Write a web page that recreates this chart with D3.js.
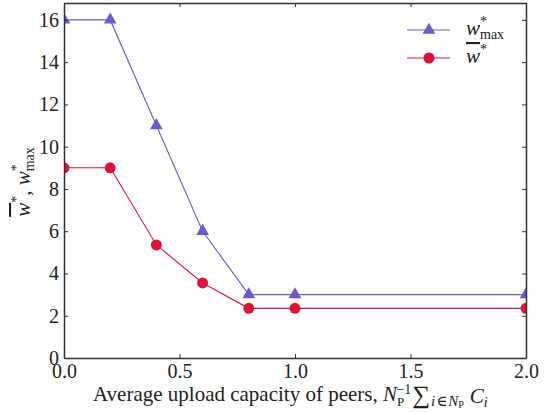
<!DOCTYPE html>
<html>
<head>
<meta charset="utf-8">
<script src="https://cdn.jsdelivr.net/npm/d3@7"></script>
<style>
  body { margin: 0; background: #fff; }
  svg { display: block; }
  text { font-family: "Liberation Serif", "DejaVu Serif", serif; fill: #222; }
</style>
</head>
<body>
<div id="chart"></div>
<script>
// data
const capacity = [0.0, 0.2, 0.4, 0.6, 0.8, 1.0, 2.0];
const wMax = [16, 16, 11, 6, 3, 3, 3];
const wMean = [9, 9, 5.35, 3.55, 2.35, 2.35, 2.35];
const xTicks = [0, 0.5, 1.0, 1.5, 2.0];
const yTicks = [0, 2, 4, 6, 8, 10, 12, 14, 16];

const width = 553, height = 412;
const margin = {top: 3, right: 27, bottom: 54, left: 64};
const w = width - margin.left - margin.right;
const h = height - margin.top - margin.bottom;
const serif = '"Liberation Serif", "DejaVu Serif", serif';

const svg = d3.select('#chart').append('svg')
  .attr('width', width).attr('height', height);
const g = svg.append('g').attr('transform', `translate(${margin.left},${margin.top})`);

const x = d3.scaleLinear().domain([0, 2]).range([0, w]);
const y = d3.scaleLinear().domain([0, 16.8]).range([h, 0]);

// clip so edge markers get cut like the original
svg.append('defs').append('clipPath').attr('id', 'clip')
  .append('rect').attr('width', w).attr('height', h);

const series = [
  {name: 'max', values: wMax, color: '#6a5acd', marker: 'triangle'},
  {name: 'mean', values: wMean, color: '#dc143c', marker: 'circle'}
];

const line = d3.line().x((d, i) => x(capacity[i])).y(d => y(d));
const plot = g.append('g').attr('clip-path', 'url(#clip)');

function drawMarker(sel, s) {
  if (s.marker === 'circle') {
    sel.append('circle').attr('r', 5.5).attr('fill', s.color);
  } else {
    sel.append('path').attr('d', d3.symbol(d3.symbolTriangle, 70)()).attr('fill', s.color);
  }
}

series.forEach(s => {
  plot.append('path').datum(s.values)
    .attr('d', line).attr('fill', 'none')
    .attr('stroke', s.color).attr('stroke-width', 1.1);
  plot.selectAll(null).data(s.values).enter().append('g')
    .attr('transform', (d, i) => `translate(${x(capacity[i])},${y(d)})`)
    .each(function () { drawMarker(d3.select(this), s); });
});

// axes, ticks pointing inward on all four sides
const tickLen = 4;
const axB = g.append('g').attr('transform', `translate(0,${h})`)
  .call(d3.axisBottom(x).tickValues(xTicks).tickFormat(d3.format('.1f'))
    .tickSizeInner(-tickLen).tickSizeOuter(0).tickPadding(6));
const axL = g.append('g')
  .call(d3.axisLeft(y).tickValues(yTicks).tickSizeInner(-tickLen).tickSizeOuter(0).tickPadding(5));
const axT = g.append('g')
  .call(d3.axisTop(x).tickValues(xTicks).tickFormat('').tickSizeInner(-tickLen).tickSizeOuter(0));
const axR = g.append('g').attr('transform', `translate(${w},0)`)
  .call(d3.axisRight(y).tickValues(yTicks).tickFormat('').tickSizeInner(-tickLen).tickSizeOuter(0));

[axB, axL, axT, axR].forEach(a => {
  a.attr('font-family', null).attr('font-size', null);
  a.select('.domain').attr('stroke', '#333').attr('stroke-width', 1.5);
  a.selectAll('.tick line').attr('stroke', '#333').attr('stroke-width', 1);
  a.selectAll('.tick text').style('font-family', serif).style('font-size', '20px').attr('fill', '#222');
});
axL.selectAll('.tick text').attr('dy', '0.32em');
axB.selectAll('.tick text').attr('dy', '0.72em');

// x label
const xl = svg.append('text').attr('x', 93).attr('y', 401).attr('font-size', 21);
xl.append('tspan').text('Average upload capacity of peers, ');
xl.append('tspan').attr('font-style', 'italic').text('N');
xl.append('tspan').attr('font-size', 13).attr('dy', 5).text('P');
xl.append('tspan').attr('font-size', 14).attr('dx', -8).attr('dy', -12).text('−1');
xl.append('tspan').attr('font-size', 25).attr('dy', 9).attr('dx', 1).text('∑');
xl.append('tspan').attr('font-size', 15).attr('dy', 3).attr('dx', 1).attr('font-style', 'italic').text('i');
xl.append('tspan').attr('font-size', 15).attr('dx', 1).text('∈');
xl.append('tspan').attr('font-size', 15).attr('dx', 1).attr('font-style', 'italic').text('N');
xl.append('tspan').attr('font-size', 10).attr('dy', 2).text('P');
xl.append('tspan').attr('font-size', 21).attr('dy', -5).attr('dx', 6).attr('font-style', 'italic').text('C');
xl.append('tspan').attr('font-size', 14).attr('dy', 4).attr('font-style', 'italic').text('i');

// y label
const yl = svg.append('text')
  .attr('transform', 'translate(30,182) rotate(-90)')
  .attr('text-anchor', 'middle').attr('font-size', 21);
yl.append('tspan').attr('font-style', 'italic').attr('text-decoration', 'overline').text('w');
yl.append('tspan').attr('font-size', 14).attr('dy', -9).text('*');
yl.append('tspan').attr('dy', 9).text(', ');
yl.append('tspan').attr('font-style', 'italic').text('w');
yl.append('tspan').attr('font-size', 14).attr('dy', -9).text('*');
yl.append('tspan').attr('font-size', 14).attr('dx', -7).attr('dy', 13).text('max');

// legend
const legend = svg.append('g').attr('transform', 'translate(407,30)');
const legendLabels = [
  [{t: 'w', it: true}, {t: '*', sup: true}, {t: 'max', sub: true}],
  [{t: 'w', it: true, over: true}, {t: '*', sup: true}]
];
series.forEach((s, i) => {
  const row = legend.append('g').attr('transform', `translate(0,${i * 28})`);
  row.append('line').attr('x1', 0).attr('x2', 43)
    .attr('stroke', s.color).attr('stroke-width', 1.1);
  drawMarker(row.append('g').attr('transform', 'translate(22,0)'), s);
  const t = row.append('text').attr('x', 59).attr('y', 5).attr('font-size', 21);
  legendLabels[i].forEach(p => {
    const ts = t.append('tspan').text(p.t);
    if (p.it) ts.attr('font-style', 'italic');
    if (p.over) ts.attr('text-decoration', 'overline');
    if (p.sup) ts.attr('font-size', 14).attr('dy', -9);
    if (p.sub) ts.attr('font-size', 14).attr('dx', -7).attr('dy', 13);
  });
});
</script>
</body>
</html>
